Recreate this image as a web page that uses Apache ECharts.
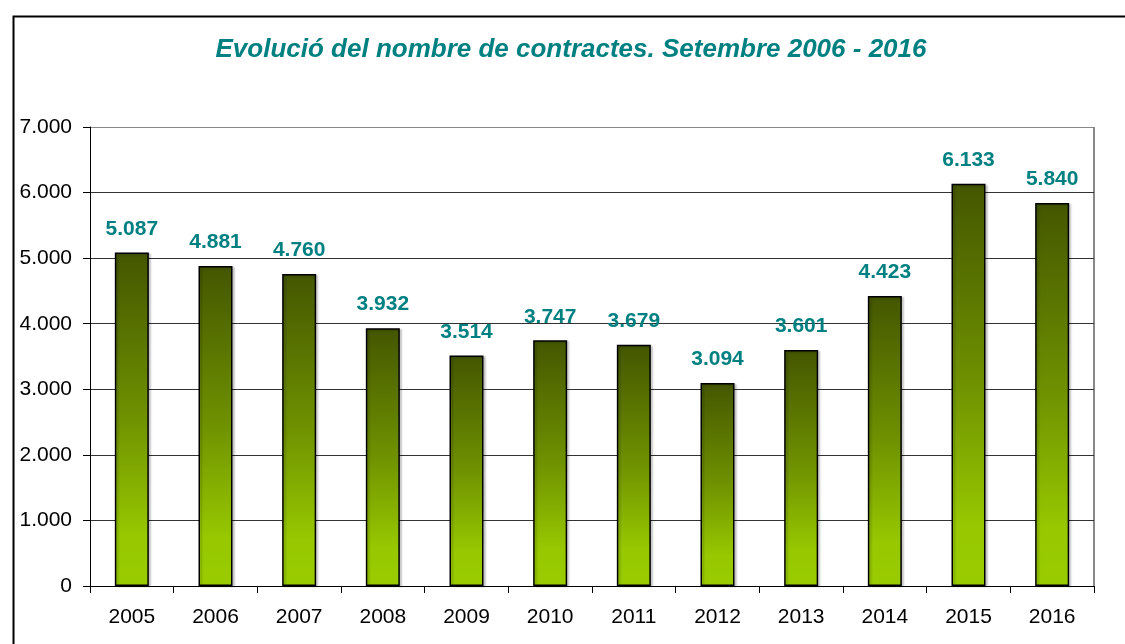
<!DOCTYPE html>
<html>
<head>
<meta charset="utf-8">
<script src="https://cdn.jsdelivr.net/npm/echarts@6/dist/echarts.min.js"></script>
<style>
  html, body { margin: 0; padding: 0; background: #fff; }
  #chart { width: 1125px; height: 644px; }
</style>
</head>
<body>
<div id="chart"></div>
<script>
const years = ['2005', '2006', '2007', '2008', '2009', '2010', '2011', '2012', '2013', '2014', '2015', '2016'];
const contracts = [5087, 4881, 4760, 3932, 3514, 3747, 3679, 3094, 3601, 4423, 6133, 5840];
const titleText = 'Evolució del nombre de contractes. Setembre 2006 - 2016';

// thousands separator with a dot
function fmt(v) {
  return String(v).replace(/\B(?=(\d{3})+(?!\d))/g, '.');
}

const chart = echarts.init(document.getElementById('chart'));

const option = {
  backgroundColor: '#fff',
  animation: false,
  title: {
    text: titleText,
    left: 566,
    textAlign: 'center',
    top: 32,
    textStyle: {
      color: '#008080',
      fontFamily: 'Liberation Sans, Arial',
      fontStyle: 'italic',
      fontWeight: 'bold',
      fontSize: 26
    }
  },
  graphic: [
    {
      type: 'rect',
      left: 11,
      top: 14,
      shape: { width: 1200, height: 700 },
      style: { fill: 'none', stroke: '#000', lineWidth: 2 },
      silent: true
    },
    {
      type: 'line',
      shape: { x1: 1094, y1: 127, x2: 1094, y2: 586 },
      style: { stroke: '#888', lineWidth: 2 },
      silent: true
    }
  ],
  grid: {
    left: 90,
    right: 31,
    top: 127,
    bottom: 58
  },
  xAxis: {
    type: 'category',
    data: years,
    axisLine: { lineStyle: { color: '#000', width: 1 } },
    axisTick: { show: true, length: 7, lineStyle: { color: '#000' } },
    axisLabel: {
      color: '#000',
      fontFamily: 'Liberation Sans, Arial',
      fontSize: 21,
      margin: 21
    }
  },
  yAxis: {
    type: 'value',
    min: 0,
    max: 7000,
    interval: 1000,
    axisLine: { show: true, lineStyle: { color: '#000', width: 1 } },
    axisTick: { show: true, length: 7, lineStyle: { color: '#000' } },
    axisLabel: {
      color: '#000',
      fontFamily: 'Liberation Sans, Arial',
      fontSize: 21,
      margin: 18,
      formatter: fmt
    },
    splitLine: {
      show: true,
      lineStyle: {
        color: ['#000', '#333', '#333', '#333', '#333', '#333', '#333', '#888'],
        width: 1
      }
    }
  },
  series: [
    {
      type: 'bar',
      data: contracts,
      barWidth: 34,
      itemStyle: {
        color: new echarts.graphic.LinearGradient(0, 0, 0, 1, [
          { offset: 0, color: '#445600' },
          { offset: 0.5, color: '#6f9200' },
          { offset: 0.85, color: '#97c800' },
          { offset: 1, color: '#99cc00' }
        ]),
        borderColor: '#000',
        borderWidth: 1.5,
        shadowColor: 'rgba(0,0,0,0.2)',
        shadowOffsetX: 2,
        shadowOffsetY: 1,
        shadowBlur: 2
      },
      label: {
        show: true,
        position: 'top',
        distance: 13,
        color: '#008080',
        fontFamily: 'Liberation Sans, Arial',
        fontWeight: 'bold',
        fontSize: 21,
        formatter: p => fmt(p.value)
      }
    }
  ]
};

chart.setOption(option);
</script>
</body>
</html>
